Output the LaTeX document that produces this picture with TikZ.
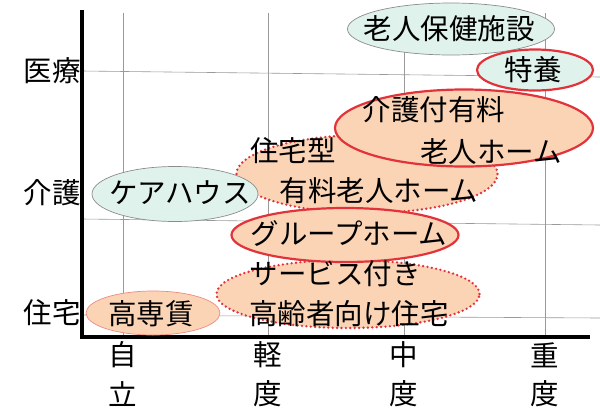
\documentclass[tikz,border=0pt]{standalone}
\usepackage{fontspec}
\setmainfont{Noto Sans CJK JP}
\usetikzlibrary{shapes.geometric}
\definecolor{mint}{HTML}{DFF2EB}
\definecolor{peach}{HTML}{FBD4B6}
\definecolor{redc}{HTML}{E2333A}
\definecolor{lightred}{HTML}{EE8A80}
\definecolor{bordergray}{HTML}{8C8C8C}
\definecolor{gridgray}{HTML}{9A9A9A}
\begin{document}
\begin{tikzpicture}[x=1pt,y=-1pt,
  every node/.style={inner sep=0pt},
  lbl/.style={font=\fontsize{28.5}{32}\selectfont, text=black},
  greenell/.style={ellipse, fill=mint, draw=bordergray, line width=0.7pt},
  solidred/.style={ellipse, fill=peach, draw=redc, line width=2.2pt},
  dotred/.style={ellipse, fill=peach, draw=redc, line width=2.6pt, dash pattern=on 0pt off 4.4pt, line cap=round},
  thinred/.style={ellipse, fill=peach, draw=lightred, line width=0.7pt},
  gridline/.style={draw=gridgray, line width=0.6pt},
  axisline/.style={draw=black, line width=4pt}
]
\useasboundingbox (0,0) rectangle (600,408);
% grid
\coordinate (v1t) at (123,13); \coordinate (v1b) at (123,337);
\coordinate (v2t) at (268,13); \coordinate (v2b) at (268,337);
\coordinate (v3t) at (404,13); \coordinate (v3b) at (404,337);
\coordinate (v4t) at (545,13); \coordinate (v4b) at (545,337);
\coordinate (h1l) at (82,71);  \coordinate (h1r) at (600,77);
\coordinate (h2l) at (82,219); \coordinate (h2r) at (600,225);
\coordinate (h3l) at (82,315); \coordinate (h3r) at (600,318);
\draw[gridline] (v1t) -- (v1b);
\draw[gridline] (v2t) -- (v2b);
\draw[gridline] (v3t) -- (v3b);
\draw[gridline] (v4t) -- (v4b);
\draw[gridline] (h1l) -- (h1r);
\draw[gridline] (h2l) -- (h2r);
\draw[gridline] (h3l) -- (h3r);
% axes
\coordinate (ytop) at (82,10);
\coordinate (origin) at (82,337);
\coordinate (xend) at (590,337);
\draw[axisline, line join=miter] (ytop) -- (origin) -- (xend);
% ellipses (back to front)
\node[dotred, minimum width=261pt, minimum height=78pt] (jutaku) at (367,174) {};
\node[dotred, minimum width=263pt, minimum height=68pt] (sakou) at (348,294) {};
\node[greenell, minimum width=207pt, minimum height=52pt] (rouken) at (451,29) {};
\node[solidred, minimum width=116pt, minimum height=41pt, fill=mint] (tokuyo) at (535,70) {};
\node[solidred, minimum width=258pt, minimum height=77pt] (kaigo) at (464,128) {};
\node[greenell, minimum width=166pt, minimum height=55pt] (care) at (175,194) {};
\node[solidred, minimum width=227pt, minimum height=54pt] (group) at (345,235) {};
\node[thinred, minimum width=134pt, minimum height=44pt] (kousen) at (153,313) {};
% texts
\node[lbl] (trouken) at (449,29) {老人保健施設};
\node[lbl] (ttokuyo) at (533,70) {特養};
\node[lbl] (tkaigo1) at (434,110) {介護付有料};
\node[lbl] (tkaigo2) at (491,152) {老人ホーム};
\node[lbl] (tjutaku1) at (293,151) {住宅型};
\node[lbl] (tjutaku2) at (379,191) {有料老人ホーム};
\node[lbl] (tcare) at (180,193) {ケアハウス};
\node[lbl] (tgroup) at (349,234) {グループホーム};
\node[lbl] (tsakou1) at (335,274) {サービス付き};
\node[lbl] (tsakou2) at (349,314) {高齢者向け住宅};
\node[lbl] (tkousen) at (151,314) {高専賃};
% axis labels
\node[lbl] (yiryo) at (52,71) {医療};
\node[lbl] (ykaigo) at (52,193) {介護};
\node[lbl] (yjutaku) at (52,313) {住宅};
\node[lbl] (x1a) at (123,355) {自};
\node[lbl] (x1b) at (123,394) {立};
\node[lbl] (x2a) at (268,355) {軽};
\node[lbl] (x2b) at (268,394) {度};
\node[lbl] (x3a) at (404,355) {中};
\node[lbl] (x3b) at (404,394) {度};
\node[lbl] (x4a) at (545,355) {重};
\node[lbl] (x4b) at (545,394) {度};
\end{tikzpicture}
\end{document}
